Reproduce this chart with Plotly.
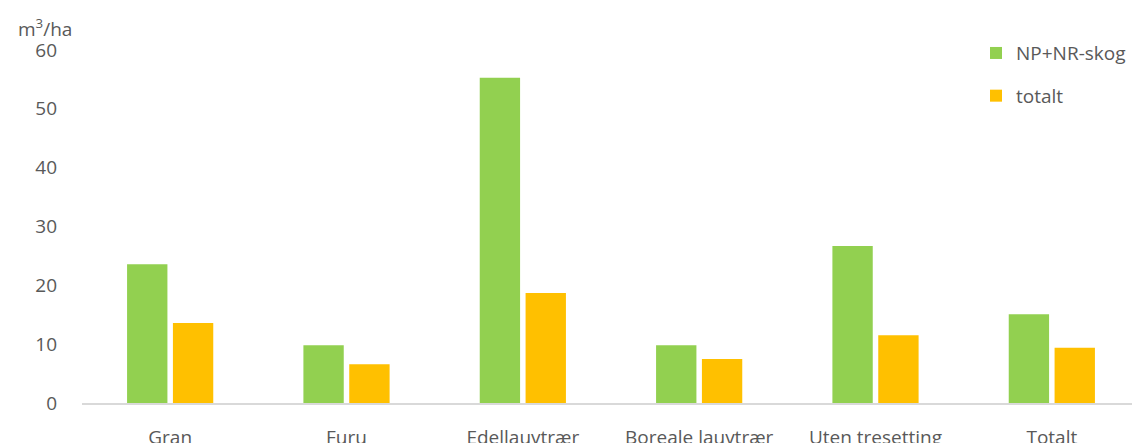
import plotly.graph_objects as go

categories = ["Gran", "Furu", "Edellauvtrær", "Boreale lauvtrær", "Uten tresetting", "Totalt"]
np_nr_skog = [23.6, 9.8, 55.3, 9.8, 26.7, 15.1]
totalt = [13.6, 6.6, 18.7, 7.5, 11.5, 9.4]
y_ticks = [0, 10, 20, 30, 40, 50, 60]

FONT = "Open Sans"
TXT = "#595959"
FS = 19

fig = go.Figure()
fig.add_trace(go.Bar(x=categories, y=np_nr_skog, name="NP+NR-skog",
                     marker=dict(color="#92D050", line=dict(width=0)), legendgroup="a"))
fig.add_trace(go.Bar(x=categories, y=totalt, name="totalt",
                     marker=dict(color="#FFC000", line=dict(width=0)), legendgroup="b"))

# page body has an 8px margin, so margins are compensated
fig.update_layout(
    width=1140, height=443,
    margin=dict(l=74, r=8, t=42, b=48, autoexpand=False),
    paper_bgcolor="white", plot_bgcolor="white",
    barmode="group", bargap=0.48, bargroupgap=0.12,
    font=dict(family=FONT, size=FS, color=TXT),
    legend=dict(x=0.845, y=1.045, xanchor="left", yanchor="top",
                tracegroupgap=15, font=dict(size=FS, color=TXT),
                bgcolor="rgba(0,0,0,0)"),
    xaxis=dict(showgrid=False, showline=True, linecolor="#D9D9D9", linewidth=1.5,
               ticks="", ticklabelstandoff=16, automargin=False,
               tickfont=dict(size=FS, color=TXT)),
    yaxis=dict(range=[0, 60], tickvals=y_ticks, showgrid=False, showline=False,
               zeroline=False, ticks="", ticklabelstandoff=24, automargin=False,
               tickfont=dict(size=FS, color=TXT)),
    annotations=[dict(text="m<sup>3</sup>/ha", xref="paper", yref="paper",
                      x=-0.062, y=1.0, xanchor="left", yanchor="middle", yshift=22,
                      showarrow=False, font=dict(size=FS, color=TXT))],
)

fig.write_html("out.html")
